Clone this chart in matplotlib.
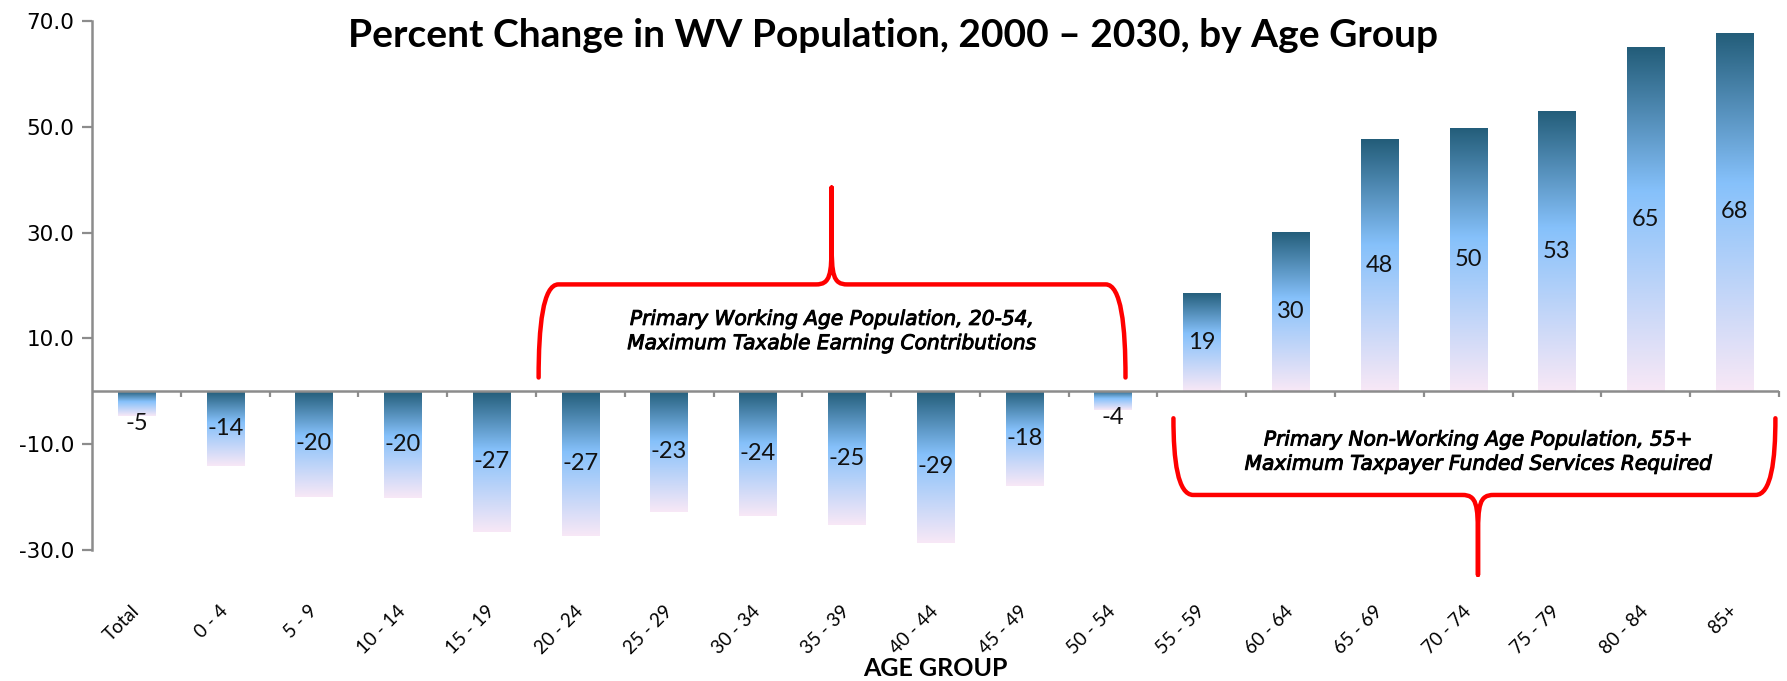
import numpy as np
import matplotlib
matplotlib.use("Agg")
import matplotlib.pyplot as plt
import matplotlib.patheffects as pe
from matplotlib.path import Path
from matplotlib.patches import PathPatch
from matplotlib.colors import LinearSegmentedColormap

age_groups = ["Total", "0 - 4", "5 - 9", "10 - 14", "15 - 19", "20 - 24", "25 - 29",
              "30 - 34", "35 - 39", "40 - 44", "45 - 49", "50 - 54", "55 - 59",
              "60 - 64", "65 - 69", "70 - 74", "75 - 79", "80 - 84", "85+"]
pct_change = [-4.7, -14.1, -19.9, -20.1, -26.6, -27.4, -22.9, -23.6, -25.3, -28.6,
              -18.0, -3.6, 18.6, 30.2, 47.6, 49.8, 53.0, 65.0, 67.8]
y_ticks = [70, 50, 30, 10, -10, -30]

title = "Percent Change in WV Population, 2000 \u2013 2030, by Age Group"
work_note = "Primary Working Age Population, 20-54,\nMaximum Taxable Earning Contributions"
retire_note = "Primary Non-Working Age Population, 55+\nMaximum Taxpayer Funded Services Required"

grad = LinearSegmentedColormap.from_list(
    "bars", [(0.0, "#f8e8f6"), (0.58, "#86c1fb"), (1.0, "#235d79")])

fig = plt.figure(figsize=(17.87, 6.81), dpi=100)
ax = fig.add_axes([0.0515, 0.1924, 0.944, 0.7768])

x = np.arange(len(age_groups))
bars = ax.bar(x, pct_change, width=0.42, color="none", edgecolor="none", zorder=2)

# vertical gradient in every bar, dark at the top
gimg = np.linspace(0, 1, 256).reshape(-1, 1)
for b in bars:
    x0, y0 = b.get_x(), b.get_y()
    w, h = b.get_width(), b.get_height()
    ylo, yhi = min(y0, y0 + h), max(y0, y0 + h)
    im = ax.imshow(gimg, cmap=grad, origin="lower", aspect="auto",
                   extent=[x0, x0 + w, ylo, yhi], zorder=2)
    im.set_clip_path(b)

for xi, v in zip(x, pct_change):
    ypos = v / 2 if abs(v) > 10 else v - 1.3
    ax.text(xi, ypos, f"{v:.0f}", ha="center", va="center", fontsize=17,
            family="Lato", color="#111111", zorder=4)

ax.set_xlim(-0.5, len(age_groups) - 0.5)
ax.set_ylim(-30, 70)
ax.set_yticks(y_ticks)
ax.set_yticklabels([f"{t:.1f}" for t in y_ticks], fontsize=15.5, family="DejaVu Sans")
ax.tick_params(axis="y", length=7, width=1.6, color="#8c8c8c", pad=6)

ax.set_xticks(x)
ax.set_xticklabels(age_groups, family="Lato", fontsize=13.5)
ax.tick_params(axis="x", length=0, pad=42)
for lab in ax.get_xticklabels():
    lab.set_rotation(45)
    lab.set_ha("right")
    lab.set_va("center")
    lab.set_rotation_mode("anchor")

for s in ["top", "right", "bottom"]:
    ax.spines[s].set_visible(False)
ax.spines["left"].set_color("#8c8c8c")
ax.spines["left"].set_linewidth(1.8)

# zero line with category separators
ax.axhline(0, color="#8c8c8c", lw=1.8, zorder=3)
ax.vlines(x + 0.5, -1.1, 0, color="#8c8c8c", lw=1.6, zorder=3, clip_on=False)

ax.set_xlabel("AGE GROUP", family="Lato", fontweight="bold", fontsize=18, labelpad=0)

fig.text(0.5, 0.948, title, ha="center", va="center", family="Lato",
         fontweight="bold", fontsize=28)


def brace(x0, x1, xm, y_end, y_bar, y_tip, rx=0.16, ry=2.3):
    d = 1 if y_tip > y_bar else -1
    verts = [(x0, y_end),
             (x0, y_end + 0.55 * (y_bar - y_end)), (x0 + rx * 0.3, y_bar), (x0 + rx * 1.4, y_bar),
             (xm - rx * 1.1, y_bar),
             (xm - rx * 0.1, y_bar), (xm, y_bar + d * ry * 0.8), (xm, y_bar + d * ry * 3.5),
             (xm, y_tip),
             (xm, y_bar + d * ry * 3.5),
             (xm, y_bar + d * ry * 0.8), (xm + rx * 0.1, y_bar), (xm + rx * 1.1, y_bar),
             (x1 - rx * 1.4, y_bar),
             (x1 - rx * 0.3, y_bar), (x1, y_end + 0.55 * (y_bar - y_end)), (x1, y_end)]
    codes = [Path.MOVETO, Path.CURVE4, Path.CURVE4, Path.CURVE4, Path.LINETO,
             Path.CURVE4, Path.CURVE4, Path.CURVE4, Path.LINETO, Path.LINETO,
             Path.CURVE4, Path.CURVE4, Path.CURVE4, Path.LINETO,
             Path.CURVE4, Path.CURVE4, Path.CURVE4]
    ax.add_patch(PathPatch(Path(verts, codes), fill=False, edgecolor="#ff0000",
                           lw=3.2, capstyle="round", joinstyle="round",
                           clip_on=False, zorder=5))


brace(4.53, 11.14, 7.83, 2.6, 20.2, 38.5)
brace(11.68, 18.46, 15.11, -5.1, -19.6, -34.7)

bold_fx = [pe.withStroke(linewidth=0.7, foreground="black")]
ax.text(7.83, 11.3, work_note, ha="center", va="center", fontsize=14.5,
        family="DejaVu Sans", style="italic", linespacing=1.35, zorder=5,
        path_effects=bold_fx)
ax.text(15.11, -11.5, retire_note, ha="center", va="center", fontsize=14.5,
        family="DejaVu Sans", style="italic", linespacing=1.35, zorder=5,
        path_effects=bold_fx)

fig.savefig("out.png", dpi=100, facecolor="white")
